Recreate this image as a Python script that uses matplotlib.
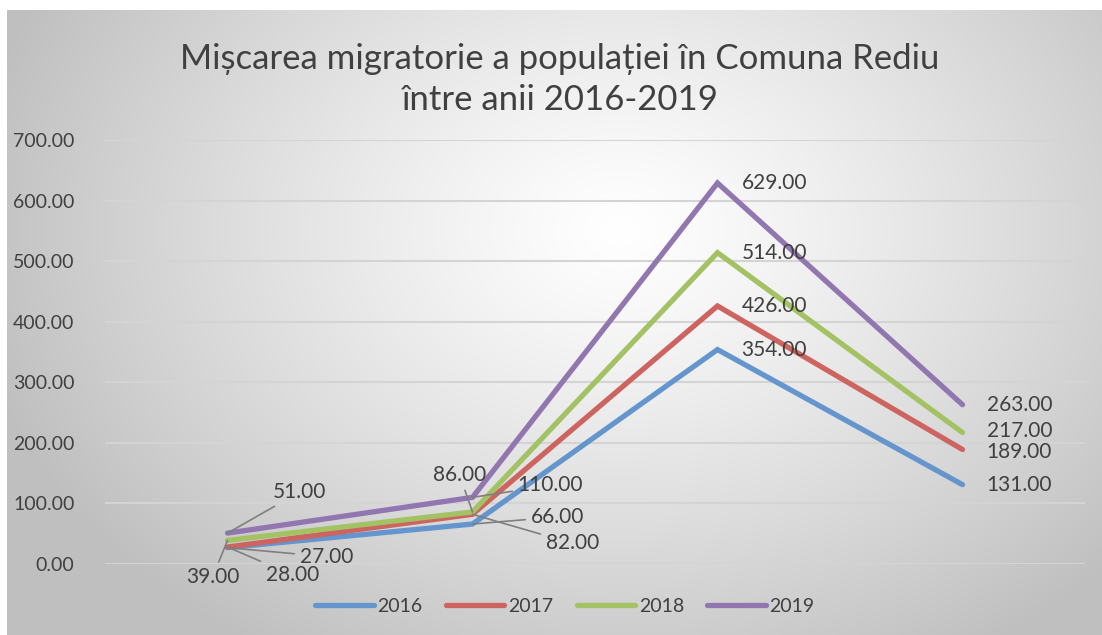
import numpy as np
import matplotlib
matplotlib.use("Agg")
import matplotlib.pyplot as plt

plt.rcParams['font.family'] = ['Lato', 'DejaVu Sans']

# data
years = ["2016", "2017", "2018", "2019"]
categories = [0, 1, 2, 3]
values = {
    "2016": [27, 66, 354, 131],
    "2017": [28, 82, 426, 189],
    "2018": [39, 86, 514, 217],
    "2019": [51, 110, 629, 263],
}
colors = {"2016": "#6495cd", "2017": "#cd6460", "2018": "#a3c264", "2019": "#9176b0"}
yticks = [0, 100, 200, 300, 400, 500, 600, 700]

# label offsets in pixels (dx, dy); leader lines for the first two points
offsets = {
    ("2016", 0): (99, -9), ("2017", 0): (65, -28), ("2018", 0): (-15, -37), ("2019", 0): (72, 41),
    ("2016", 1): (85, 7), ("2017", 1): (100, -29), ("2018", 1): (-13, 37), ("2019", 1): (78, 12),
}
right_offsets = {("2018", 3): (24, 2), ("2017", 3): (24, -2)}

W, H = 1102, 635
fig = plt.figure(figsize=(W / 100, H / 100), dpi=100)

# background gradient
bg = fig.add_axes([0, 0, 1, 1], zorder=-10)
yy, xx = np.mgrid[0:H, 0:W]
r = np.sqrt(((xx - 620) / 660.0) ** 2 + ((yy - 230) / 500.0) ** 2)
g = 1.0 - 0.25 * np.clip(r, 0, 1) ** 1.2
img = np.dstack([g, g, g])
img[:10, :, :] = 1.0
img[:, :7, :] = 1.0
bg.imshow(img, aspect='auto', interpolation='bilinear')
bg.axis('off')

ax = fig.add_axes([105 / W, 71 / H, 980 / W, 424 / H])
ax.set_facecolor('none')
ax.set_xlim(-0.5, 3.5)
ax.set_ylim(0, 700)
ax.set_yticks(yticks)
ax.set_yticklabels([f"{v:.2f}" for v in yticks], fontsize=14, color='#404040')
ax.set_xticks([])
ax.tick_params(axis='y', length=0, pad=22)
for s in ax.spines.values():
    s.set_visible(False)
ax.grid(axis='y', color='#d4d4d4', linewidth=1.5)
ax.set_axisbelow(True)

for yr in years:
    ax.plot(categories, values[yr], color=colors[yr], linewidth=3.8, label=yr,
            solid_capstyle='round', solid_joinstyle='miter', zorder=3)

for yr in years:
    for i, v in enumerate(values[yr]):
        txt = f"{v:.2f}"
        if (yr, i) in offsets:
            dx, dy = offsets[(yr, i)]
            ax.annotate(txt, xy=(i, v), xytext=(dx, dy), textcoords='offset pixels',
                        ha='center', va='center', fontsize=15, color='#404040',
                        arrowprops=dict(arrowstyle='-', color='#7f7f7f', lw=1.2,
                                        shrinkA=2, shrinkB=0), zorder=4)
        else:
            dx, dy = right_offsets.get((yr, i), (24, 0))
            ax.annotate(txt, xy=(i, v), xytext=(dx, dy), textcoords='offset pixels',
                        ha='left', va='center', fontsize=15, color='#404040', zorder=4)

fig.text(0.508, 1 - 59 / H, "Mișcarea migratorie a populației în Comuna Rediu",
         ha='center', va='center', fontsize=25, color='#404040')
fig.text(0.508, 1 - 100 / H, "între anii 2016-2019",
         ha='center', va='center', fontsize=25, color='#404040')

leg = ax.legend(loc='center', bbox_to_anchor=(565 / W, 1 - 606 / H),
                bbox_transform=fig.transFigure, ncol=4, frameon=False, fontsize=14,
                handlelength=3.0, handletextpad=0.2, columnspacing=1.2)
for t in leg.get_texts():
    t.set_color('#404040')
for h in leg.get_lines():
    h.set_solid_capstyle('round')

fig.savefig("out.png", dpi=100)
